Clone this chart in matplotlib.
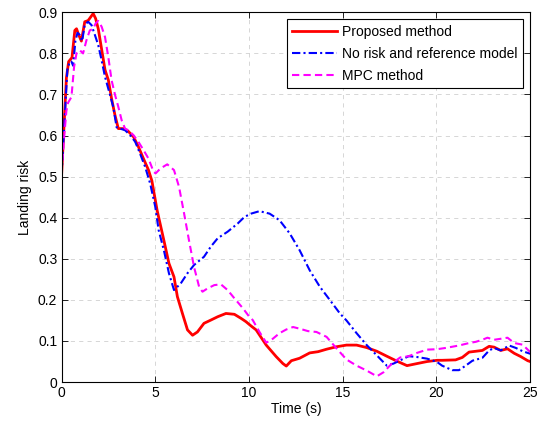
import matplotlib
matplotlib.use("Agg")
import matplotlib.pyplot as plt

# ----------------------------------------------------------------
# DATA
# ----------------------------------------------------------------
t_prop = [0.0, 0.13, 0.26, 0.38, 0.56, 0.71, 0.8, 0.92, 1.06, 1.24, 1.42, 1.69, 1.82, 1.96,
          2.14, 2.32, 2.5, 2.67, 2.85, 3.03, 3.3, 3.57, 3.84, 4.1, 4.37, 4.64, 4.82, 5.1,
          5.46, 5.73, 6.0, 6.18, 6.45, 6.72, 6.99, 7.25, 7.6, 7.97, 8.33, 8.77, 9.22, 9.58,
          9.84, 10.1, 10.38, 10.92, 11.45, 11.81, 11.99, 12.26, 12.7, 13.24, 13.69, 14.14,
          14.67, 15.2, 15.74, 16.28, 16.82, 17.35, 17.89, 18.43, 18.96, 19.5, 20.03, 20.3,
          21.02, 21.38, 21.74, 22.1, 22.45, 22.81, 23.08, 23.43, 23.79, 24.15, 24.5, 24.87, 25.0]
v_prop = [0.5, 0.62, 0.74, 0.78, 0.79, 0.856, 0.86, 0.845, 0.83, 0.877, 0.88, 0.897, 0.885, 0.86,
          0.81, 0.76, 0.735, 0.69, 0.65, 0.617, 0.617, 0.61, 0.597, 0.573, 0.544, 0.516, 0.49, 0.418,
          0.345, 0.289, 0.256, 0.208, 0.167, 0.127, 0.114, 0.122, 0.143, 0.151, 0.159, 0.167, 0.165, 0.155,
          0.147, 0.137, 0.127, 0.09, 0.062, 0.045, 0.039, 0.052, 0.058, 0.071, 0.074, 0.08,
          0.086, 0.09, 0.09, 0.084, 0.075, 0.063, 0.051, 0.04, 0.045, 0.05, 0.053, 0.053,
          0.054, 0.06, 0.073, 0.075, 0.077, 0.087, 0.085, 0.077, 0.081, 0.07, 0.062, 0.052, 0.05]

t_norisk = [0.0, 0.13, 0.31, 0.44, 0.53, 0.62, 0.74, 0.85, 0.97, 1.1, 1.24, 1.42, 1.6, 1.78,
            1.96, 2.14, 2.32, 2.58, 2.76, 2.94, 3.12, 3.39, 3.66, 3.93, 4.19, 4.46, 4.73, 5.0,
            5.18, 5.46, 5.73, 6.0, 6.36, 6.72, 7.07, 7.6, 7.97, 8.33, 8.86, 9.4, 9.76, 10.11,
            10.56, 11.1, 11.63, 12.17, 12.7, 13.24, 13.78, 14.31, 14.85, 15.2, 15.74, 16.28,
            16.82, 17.35, 17.71, 18.07, 18.52, 18.96, 19.5, 20.03, 20.3, 20.84, 21.2, 21.56,
            21.92, 22.45, 22.81, 23.08, 23.43, 23.88, 24.24, 24.6, 25.0]
v_norisk = [0.5, 0.61, 0.76, 0.78, 0.78, 0.77, 0.83, 0.85, 0.845, 0.83, 0.87, 0.877, 0.869, 0.845,
            0.82, 0.783, 0.743, 0.70, 0.67, 0.62, 0.617, 0.613, 0.601, 0.585, 0.556, 0.524, 0.483, 0.427,
            0.37, 0.321, 0.265, 0.224, 0.24, 0.265, 0.285, 0.305, 0.33, 0.35, 0.366, 0.386, 0.402, 0.41,
            0.416, 0.41, 0.394, 0.362, 0.321, 0.272, 0.232, 0.2, 0.167, 0.15, 0.119, 0.09,
            0.065, 0.04, 0.045, 0.053, 0.063, 0.061, 0.057, 0.049, 0.04, 0.029, 0.029, 0.04,
            0.052, 0.059, 0.077, 0.083, 0.077, 0.089, 0.083, 0.075, 0.069]

t_mpc = [0.0, 0.13, 0.26, 0.35, 0.53, 0.67, 0.8, 0.97, 1.15, 1.33, 1.51, 1.69, 1.82, 1.96,
         2.14, 2.32, 2.5, 2.67, 2.85, 3.03, 3.21, 3.39, 3.57, 3.84, 4.1, 4.37, 4.64, 4.91,
         5.02, 5.28, 5.64, 6.0, 6.27, 6.54, 6.8, 7.07, 7.34, 7.52, 7.79, 8.15, 8.5, 8.86,
         9.22, 9.67, 10.0, 10.2, 10.56, 10.92, 11.18, 11.63, 11.99, 12.35, 12.7, 13.15, 13.6,
         14.14, 14.67, 15.2, 15.74, 16.28, 16.82, 17.18, 17.62, 18.07, 18.52, 18.96, 19.5,
         20.03, 20.48, 21.2, 21.74, 22.1, 22.45, 22.72, 23.08, 23.52, 23.79, 24.15, 24.6, 25.0]
v_mpc = [0.51, 0.59, 0.66, 0.68, 0.694, 0.767, 0.8, 0.808, 0.8, 0.832, 0.856, 0.86, 0.873, 0.879,
         0.865, 0.84, 0.79, 0.735, 0.70, 0.67, 0.637, 0.617, 0.613, 0.601, 0.585, 0.565, 0.544, 0.512,
         0.508, 0.52, 0.53, 0.516, 0.475, 0.41, 0.345, 0.28, 0.232, 0.22, 0.228, 0.236, 0.238, 0.224,
         0.204, 0.18, 0.16, 0.151, 0.122, 0.096, 0.102, 0.119, 0.128, 0.134, 0.13, 0.124, 0.122,
         0.11, 0.082, 0.055, 0.04, 0.028, 0.014, 0.024, 0.045, 0.06, 0.063, 0.071, 0.079,
         0.08, 0.083, 0.089, 0.095, 0.098, 0.103, 0.108, 0.103, 0.106, 0.108, 0.095, 0.091, 0.073]

labels = ["Proposed method", "No risk and reference model", "MPC method"]

# ----------------------------------------------------------------
# PLOT
# ----------------------------------------------------------------
plt.rcParams["font.family"] = ["Liberation Sans", "DejaVu Sans"]
plt.rcParams["font.size"] = 10

fig = plt.figure(figsize=(5.41, 4.25), dpi=100)
ax = fig.add_axes([0.1137, 0.101, 0.8663, 0.870])

ax.plot(t_prop, v_prop, color="red", lw=2.0, label=labels[0])
ax.plot(t_norisk, v_norisk, color="blue", lw=1.5, linestyle=(0, (4, 1.5, 1, 1.5)), label=labels[1])
ax.plot(t_mpc, v_mpc, color="magenta", lw=1.5, linestyle=(0, (3.5, 2)), label=labels[2])

ax.set_xlim(0, 25)
ax.set_ylim(0, 0.9)
ax.set_xticks(range(0, 26, 5))
ax.set_yticks([i / 10 for i in range(10)])
ax.set_yticklabels(["0"] + [f"{i / 10:.1f}" for i in range(1, 10)])
ax.tick_params(direction="in", top=True, right=True, length=4, width=0.6, labelsize=10, pad=3)
ax.grid(True, color="#d0d0d0", linestyle=(0, (5, 5)), linewidth=0.6)
for s in ax.spines.values():
    s.set_linewidth(0.8)

ax.set_xlabel("Time (s)", fontsize=10, labelpad=1)
ax.set_ylabel("Landing risk", fontsize=10, labelpad=4)

leg = ax.legend(loc="upper right", fontsize=10, fancybox=False, framealpha=1,
                edgecolor="black", handlelength=3.2, borderaxespad=0.5,
                labelspacing=0.58, handletextpad=0.4, borderpad=0.4)
leg.get_frame().set_linewidth(0.8)

fig.savefig("out.png", dpi=100)
